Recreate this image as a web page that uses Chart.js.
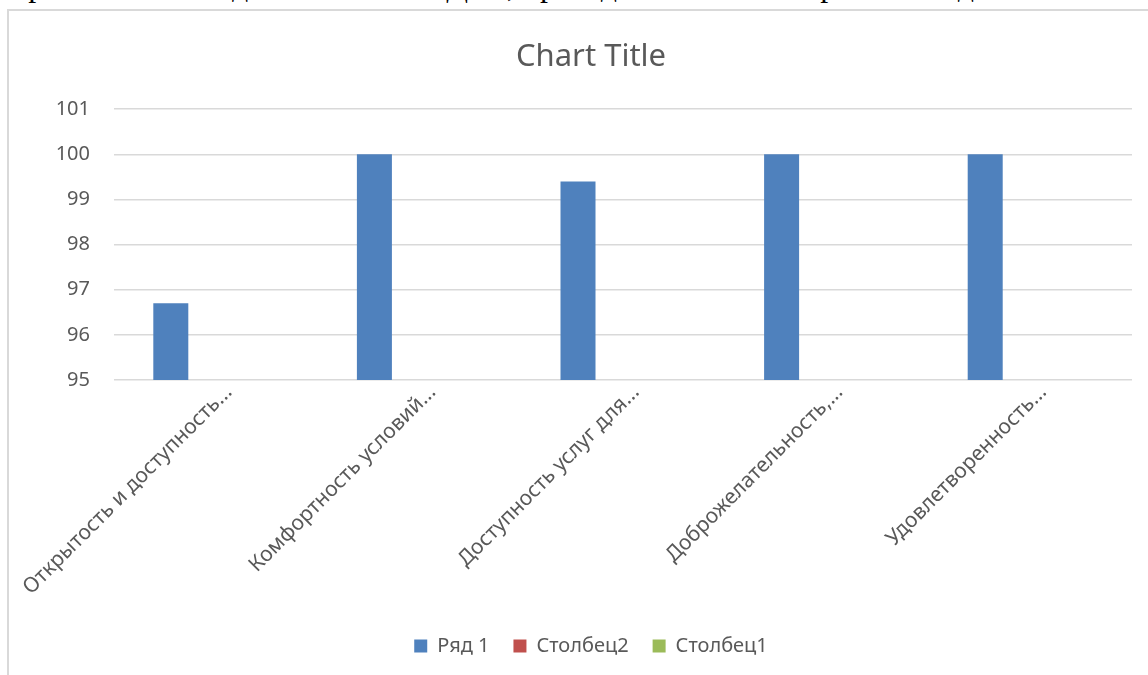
<!DOCTYPE html>
<html>
<head>
<meta charset="utf-8">
<script src="https://cdn.jsdelivr.net/npm/chart.js@4.4.0/dist/chart.umd.min.js"></script>
<style>
    html, body { margin: 0; padding: 0; background: #fff; overflow: hidden; }
    body { width: 1148px; height: 675px; position: relative; }
    #docText {
        position: absolute; left: -4px; top: -31px;
        font-family: "Liberation Serif", "DejaVu Serif", serif;
        font-size: 32px; line-height: 32px; white-space: nowrap; color: #000;
    }
    #frame {
        position: absolute; left: 7px; top: 9px; width: 1300px; height: 800px;
        border-left: 2px solid #d9d9d9; border-top: 2px solid #d9d9d9;
    }
    #chart { position: absolute; left: 0; top: 0; }
</style>
</head>
<body>
<div id="docText">образовательной деятельности в ДОУ, проведенной в сентябре 2022 год</div>
<div id="frame"></div>
<canvas id="chart" width="1148" height="675"></canvas>
<script>
// данные диаграммы
const categories = [
    'Открытость и доступность...',
    'Комфортность условий...',
    'Доступность услуг для...',
    'Доброжелательность,...',
    'Удовлетворенность...'
];
const seriesNames = ['Ряд 1', 'Столбец2', 'Столбец1'];
const row1 = [96.7, 100, 99.4, 100, 100];
const column2 = [null, null, null, null, null];
const column1 = [null, null, null, null, null];
const yTicks = [95, 96, 97, 98, 99, 100, 101];

const colors = ['#4f81bd', '#c0504d', '#9bbb59'];
const textColor = '#595959';
const fontFamily = '"Noto Sans", "Open Sans", sans-serif';

Chart.defaults.font.family = fontFamily;
Chart.defaults.color = textColor;

const ctx = document.getElementById('chart').getContext('2d');
new Chart(ctx, {
    type: 'bar',
    data: {
        labels: categories,
        datasets: [row1, column2, column1].map((values, i) => ({
            label: seriesNames[i],
            data: values,
            backgroundColor: colors[i],
            categoryPercentage: 0.663,
            barPercentage: 0.778
        }))
    },
    options: {
        responsive: false,
        animation: false,
        layout: { padding: { left: 50, right: 16, top: 0, bottom: 9 } },
        plugins: {
            title: {
                display: true,
                text: 'Chart Title',
                color: textColor,
                font: { size: 31, weight: 'normal' },
                padding: { top: 39, bottom: 33 }
            },
            legend: {
                position: 'bottom',
                labels: {
                    boxWidth: 13,
                    boxHeight: 13,
                    padding: 24,
                    color: textColor,
                    font: { size: 20 }
                }
            },
            tooltip: { enabled: false }
        },
        scales: {
            x: {
                afterFit: scale => { scale.height = 232; },
                grid: { display: false, drawTicks: false },
                border: { display: false },
                ticks: {
                    autoSkip: false,
                    minRotation: 45,
                    maxRotation: 45,
                    padding: 0,
                    labelOffset: 13,
                    font: { size: 21 }
                }
            },
            y: {
                min: yTicks[0],
                max: yTicks[yTicks.length - 1],
                afterBuildTicks: scale => { scale.ticks = yTicks.map(v => ({ value: v })); },
                afterFit: scale => { scale.width = 64; },
                grid: { color: '#d9d9d9', lineWidth: 1.5, drawTicks: false },
                border: { display: false },
                ticks: { padding: 24, font: { size: 20 } }
            }
        }
    }
});
</script>
</body>
</html>
